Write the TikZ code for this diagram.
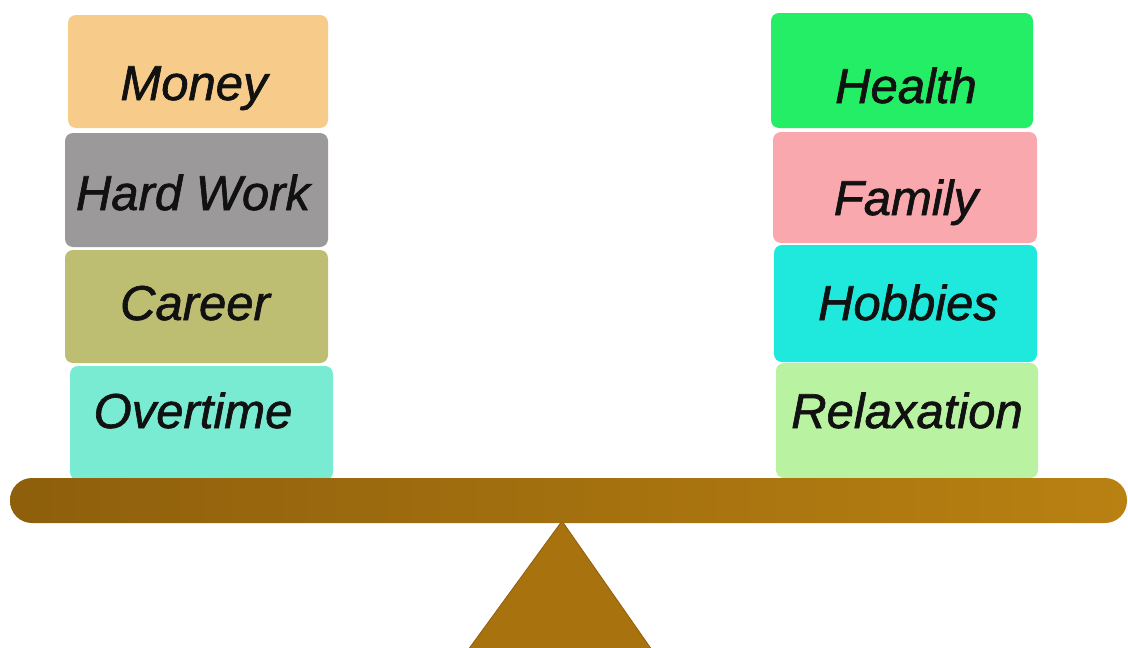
\documentclass[tikz,border=0pt]{standalone}
\usepackage{fontspec}
\newfontfamily\lbl{Liberation Sans}[FakeBold=1.3]
\definecolor{cMoney}{HTML}{F7CB8A}
\definecolor{cWork}{HTML}{9B999A}
\definecolor{cCareer}{HTML}{BDBE72}
\definecolor{cOver}{HTML}{78EBD2}
\definecolor{cHealth}{HTML}{24EE66}
\definecolor{cFamily}{HTML}{F9A9AE}
\definecolor{cHobby}{HTML}{1EE9DC}
\definecolor{cRelax}{HTML}{B9F3A2}
\definecolor{beamL}{HTML}{8E5F0C}
\definecolor{beamR}{HTML}{B98112}
\definecolor{fulc}{HTML}{A8720F}
\definecolor{txt}{HTML}{111111}
\tikzset{
  block/.style={rounded corners=8pt, draw=none},
  lbltext/.style={anchor=base, font=\lbl\itshape\fontsize{49}{52}\selectfont, text=txt, inner sep=0pt}
}
\begin{document}
\begin{tikzpicture}[x=1pt,y=-1pt]
\useasboundingbox[fill=white] (0,0) rectangle (1128,648);
% left stack
\fill[block,cMoney]  (68,15) rectangle (328,128);
\fill[block,cWork]   (65,133) rectangle (328,247);
\fill[block,cCareer] (65,250) rectangle (328,363);
\fill[block,cOver]   (70,366) rectangle (333,480);
% right stack
\fill[block,cHealth] (771,13) rectangle (1033,128);
\fill[block,cFamily] (773,132) rectangle (1037,243);
\fill[block,cHobby]  (774,245) rectangle (1037,362);
\fill[block,cRelax]  (776,363) rectangle (1038,478);
% labels
\node[lbltext] (money) at (194,100) {Money};
\node[lbltext] (work) at (193,210) {Hard Work};
\node[lbltext] (career) at (195,320) {Career};
\node[lbltext] (over) at (193,428) {Overtime};
\node[lbltext] (health) at (906,103) {Health};
\node[lbltext] (family) at (906,215) {Family};
\node[lbltext] (hobby) at (908,320) {Hobbies};
\node[lbltext] (relax) at (907,428) {Relaxation};
% fulcrum
\fill[fulc, draw=beamL, line width=0.8pt] (562,521) -- (652,650) -- (468,650) -- cycle;
% beam
\shade[left color=beamL, right color=beamR, rounded corners=22pt] (10,478) rectangle (1127,523);
\end{tikzpicture}
\end{document}
